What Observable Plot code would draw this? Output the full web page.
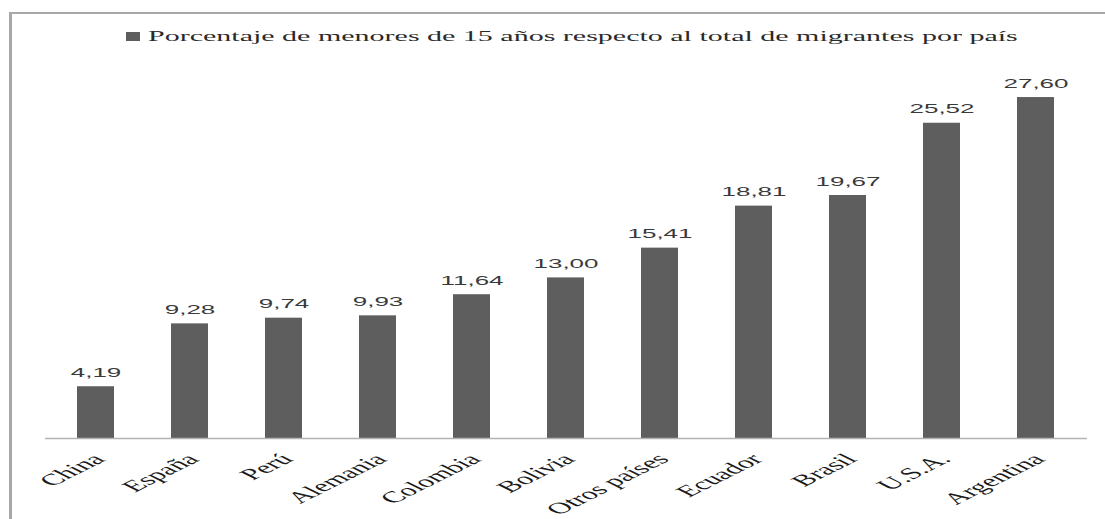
<!DOCTYPE html>
<html>
<head>
<meta charset="utf-8">
<script src="https://cdn.jsdelivr.net/npm/d3@7"></script>
<script src="https://cdn.jsdelivr.net/npm/@observablehq/plot@0.6"></script>
<style>
html,body{margin:0;padding:0;background:#fff;}
body{width:1105px;height:519px;overflow:hidden;position:relative;}
#frame{position:absolute;left:9px;top:12px;width:1096px;height:507px;border-left:3px solid #a8a8a8;border-top:2px solid #a8a8a8;box-sizing:border-box;}
#legend{height:40px;position:relative;}
#legend .inner{position:absolute;left:114px;top:14px;transform:scaleX(2);transform-origin:0 0;display:flex;align-items:center;white-space:nowrap;font-family:"Liberation Serif";font-size:15px;color:#2a2a2a;}
#legend .sw{width:7px;height:9px;background:#5e5e5e;margin-right:4px;flex:none;}
#chart svg{display:block;}
</style>
</head>
<body>
<div id="frame">
  <div id="legend"><div class="inner"><span class="sw"></span><span id="legend-text"></span></div></div>
  <div id="chart"></div>
</div>
<script>
const countries = ["China","España","Perú","Alemania","Colombia","Bolivia","Otros países","Ecuador","Brasil","U.S.A.","Argentina"];
const values = [4.19, 9.28, 9.74, 9.93, 11.64, 13.00, 15.41, 18.81, 19.67, 25.52, 27.60];
const seriesName = "Porcentaje de menores de 15 años respecto al total de migrantes por país";

document.getElementById("legend-text").textContent = seriesName;

const data = countries.map((c, i) => ({country: c, value: values[i]}));
const fmt = v => v.toFixed(2).replace(".", ",");

const chart = Plot.plot({
  width: 1093,
  height: 465,
  marginLeft: 33,
  marginRight: 18,
  marginTop: 13.4,
  marginBottom: 81,
  style: {background: "transparent", fontFamily: "Liberation Serif", color: "#1a1a1a", overflow: "visible"},
  x: {domain: countries, paddingInner: 0.605, paddingOuter: 0.3025, label: null},
  y: {domain: [0, 30], axis: null},
  marks: [
    Plot.barY(data, {x: "country", y: "value", fill: "#5e5e5e"}),
    Plot.ruleY([0], {stroke: "#b3b3b3", strokeWidth: 1.5}),
    Plot.text(data, {x: "country", y: "value", text: d => fmt(d.value), lineAnchor: "bottom", dy: -10,
      fontFamily: "Liberation Sans", fontSize: 13, fill: "#3a3a3a"}),
    Plot.axisX({tickSize: 0, tickRotate: -45, textAnchor: "end", lineAnchor: "middle", tickPadding: 18, dx: 3,
      fontSize: 16, fill: "#1a1a1a", label: null})
  ]
});

// horizontal stretch of the texts, as in the reference
const S = 2;
chart.querySelectorAll("text").forEach(t => {
  let tr = t.getAttribute("transform");
  if (!tr) {
    const x = +t.getAttribute("x") || 0;
    const y = t.getAttribute("y");
    const yn = (y && !isNaN(+y)) ? +y : 0;
    tr = `translate(${x},${yn})`;
    t.removeAttribute("x");
    if (y && !isNaN(+y)) t.removeAttribute("y");
  }
  if (tr.includes("rotate(")) tr = tr.replace("rotate(", `scale(${S},1) rotate(`);
  else tr = tr + ` scale(${S},1)`;
  t.setAttribute("transform", tr);
});

document.getElementById("chart").appendChild(chart);
</script>
</body>
</html>
